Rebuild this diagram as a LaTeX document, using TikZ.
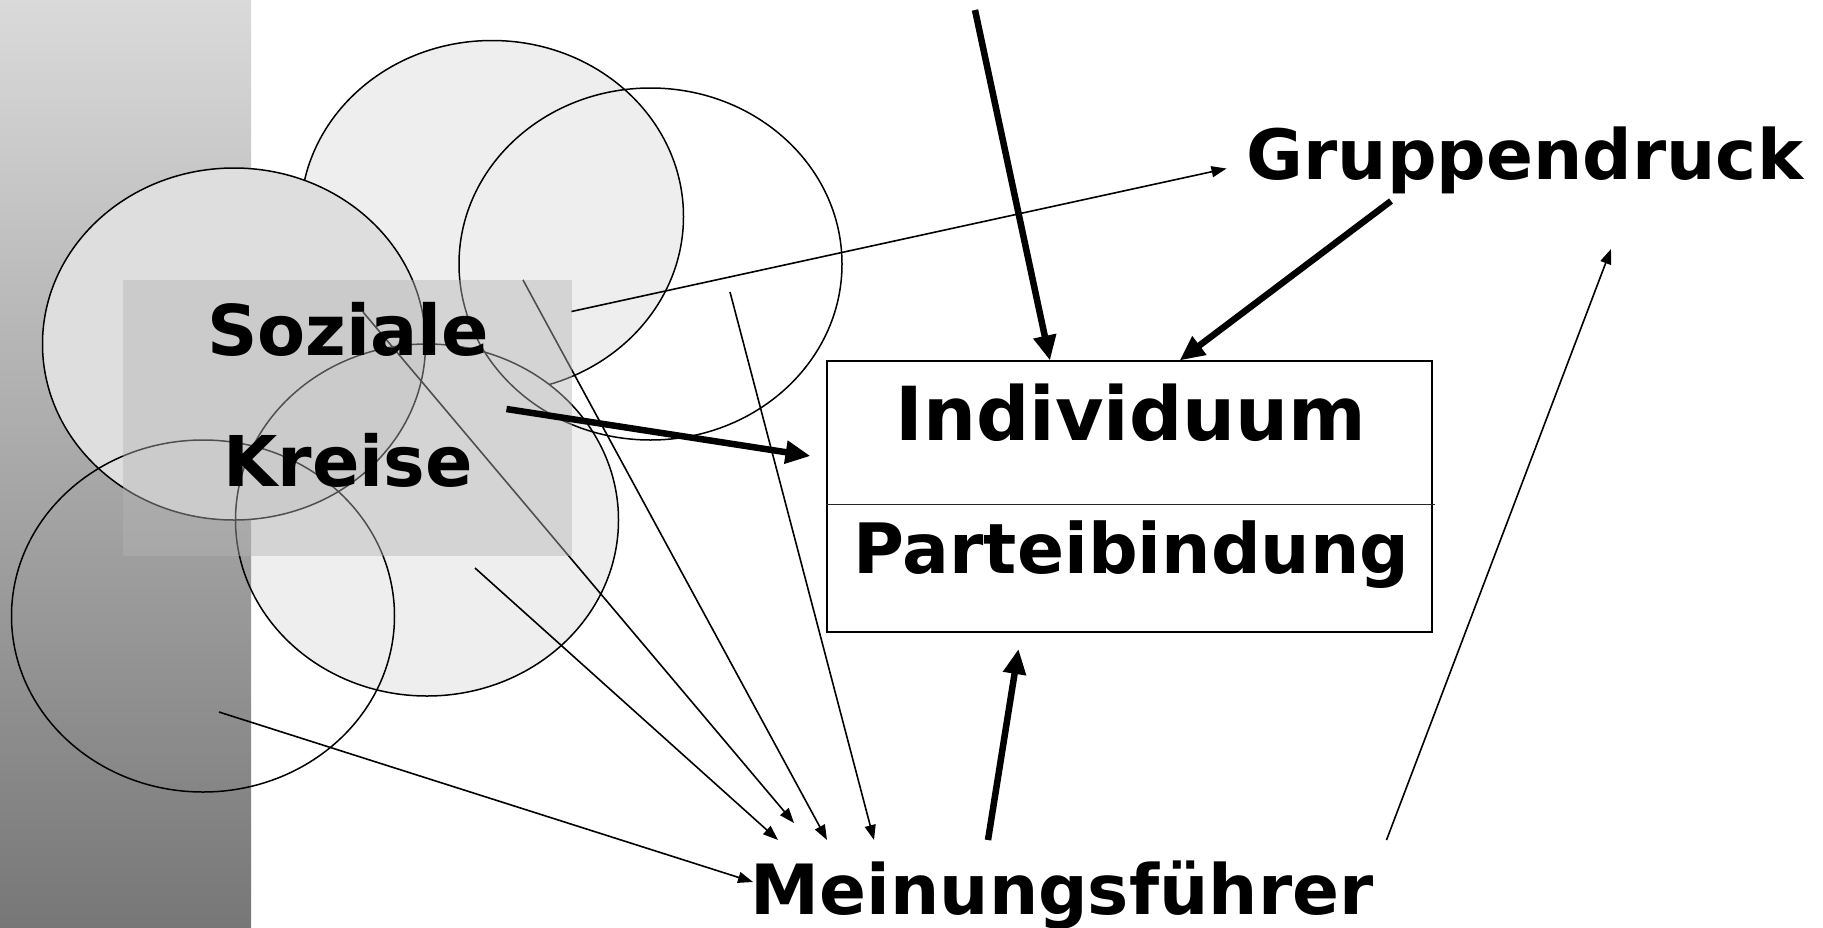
\documentclass[tikz,border=0pt]{standalone}
\usepackage{fontspec}
\setmainfont{DejaVu Sans}
\usetikzlibrary{arrows.meta}
\definecolor{bandtop}{RGB}{218,218,218}
\definecolor{bandbot}{RGB}{119,119,119}
\definecolor{circlight}{RGB}{238,238,238}
\definecolor{circdark}{RGB}{222,222,222}
\definecolor{veil}{RGB}{181,181,181}
\begin{document}
\begin{tikzpicture}[x=1pt,y=-1pt,
  ring/.style={line width=1.5pt},
  thinarrow/.style={line width=1.6pt,-{Triangle[length=15pt,width=11pt]}},
  thickarrow/.style={line width=6.5pt,-{Triangle[length=25pt,width=22pt]}},
  word/.style={font=\bfseries\fontsize{#1}{#1}\selectfont,inner sep=0pt,anchor=base},
  word/.default=70,
]
\useasboundingbox (0,0) rectangle (1823,927);
\fill[white] (0,0) rectangle (1823,927);

% upper circle, then the lower middle fill
\filldraw[ring,fill=circlight] (492,216.5) ellipse [x radius=191.5,y radius=176];
\fill[circlight] (427,520) ellipse [x radius=191.5,y radius=176];
% shaded band on the left
\shade[top color=bandtop,bottom color=bandbot] (0,0) rectangle (251,927);
% left circle covers the upper one
\filldraw[ring,fill=circdark] (234,344) ellipse [x radius=191.5,y radius=176];

% open outlines on top
\draw[ring] (427,520) ellipse [x radius=191.5,y radius=176];
\draw[ring] (650.5,264) ellipse [x radius=191.5,y radius=176];
\draw[ring] (203,616) ellipse [x radius=191.5,y radius=176];

% anchor points of the connectors
\coordinate (s1) at (363,312);
\coordinate (s2) at (523,280);
\coordinate (s3) at (730,292);
\coordinate (s4) at (475,568);
\coordinate (s5) at (219,712);
\coordinate (s6) at (571.5,311.5);
\coordinate (s7) at (506.5,409);
\coordinate (t1) at (794,823);
\coordinate (t2) at (827,840);
\coordinate (t3) at (874,840);
\coordinate (t4) at (778,840);
\coordinate (t5) at (753,882);
\coordinate (t6) at (1226.5,168.5);
\coordinate (t7) at (810.5,456);
\coordinate (top) at (975,10);
\coordinate (g1) at (1391,201);
\coordinate (m1) at (988,840);
\coordinate (m2) at (1386.5,840);
\coordinate (b1) at (1050,360.5);
\coordinate (b2) at (1179.5,360.5);
\coordinate (b3) at (1018.5,649);
\coordinate (g2) at (1611,249);

% connectors running under the veil
\draw[thinarrow] (s1) -- (t1);
\draw[thinarrow] (s2) -- (t2);

% translucent label field
\fill[veil,fill opacity=0.44] (123,280) rectangle (571.5,555.5);

\node[word] (soz) at (348,355) {Soziale};
\node[word] (kre) at (348,486.5) {Kreise};

% box with the two compartments
\node[draw,line width=2pt,minimum width=605pt,minimum height=271pt,inner sep=0pt] (box) at (1129,496.1) {};
\draw[line width=1.5pt,black!85] (box.west |- 0,504.3) -- ++(609,0) coordinate (divend);
\node[word=74.5] (ind) at (1131,440) {Individuum};
\node[word=69.5] (par) at (1131.5,573.3) {Parteibindung};

\node[word=69.3] (gru) at (1525,179) {Gruppendruck};
\node[word=69.3] (mei) at (1062,914) {Meinungsführer};

% remaining connectors
\draw[thinarrow] (s3) -- (t3);
\draw[thinarrow] (s4) -- (t4);
\draw[thinarrow] (s5) -- (t5);
\draw[thinarrow] (s6) -- (t6);
\draw[thinarrow] (m2) -- (g2);
\draw[thickarrow] (s7) -- (t7);
\draw[thickarrow] (top) -- (b1);
\draw[thickarrow] (g1) -- (b2);
\draw[thickarrow] (m1) -- (b3);
\end{tikzpicture}
\end{document}
